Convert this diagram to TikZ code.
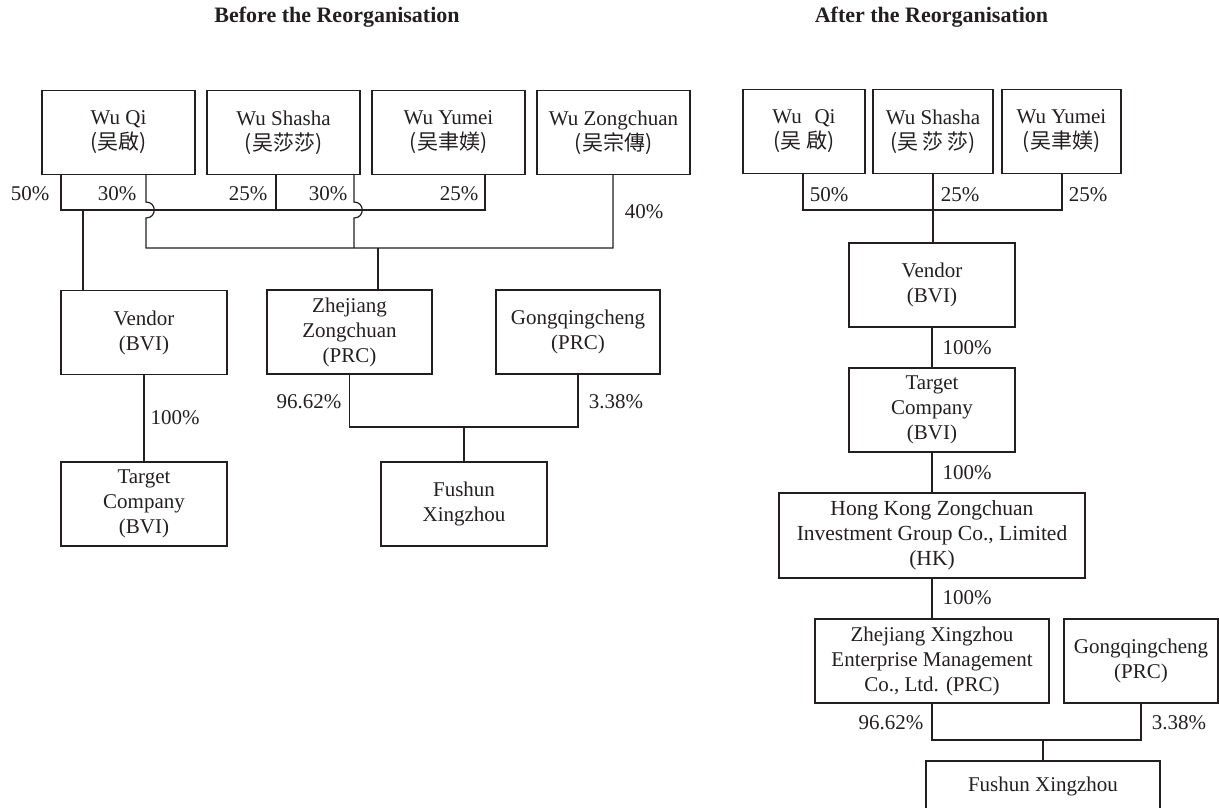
\documentclass[tikz,border=0pt]{standalone}
\usepackage{fontspec}
\setmainfont{Liberation Serif}
\newfontfamily\cjk{Noto Sans CJK TC}
\definecolor{ink}{HTML}{231F20}
\begin{document}
\begin{tikzpicture}[x=1pt,y=-1pt,line width=1.2pt,
  every node/.style={text=ink,font=\fontsize{21}{25}\selectfont},
  box/.style={draw=ink,align=center,inner sep=0pt,minimum height=84pt,minimum width=#1},
  pct/.style={inner sep=0pt},
  ttl/.style={font=\fontsize{22}{26}\selectfont\bfseries,inner sep=0pt},
  conn/.style={draw=ink}]
\useasboundingbox (0,0) rectangle (1219,807);
\clip (0,0) rectangle (1219,807);
% titles
\node[ttl] (tb) at (337,17) {Before the Reorganisation};
\node[ttl] (ta) at (931.5,17) {After the Reorganisation};
% ---------- before ----------
\node[box=153pt] (wuqi) at (118.5,132.5) {Wu Qi\\{\cjk(吴啟)}};
\node[box=153pt] (wushasha) at (283.5,132.5) {Wu Shasha\\{\cjk(吴莎莎)}};
\node[box=153pt] (wuyumei) at (448.5,132.5) {Wu Yumei\\{\cjk(吴聿媄)}};
\node[box=153pt] (wuzong) at (613.5,132.5) {Wu Zongchuan\\{\cjk(吴宗傳)}};
\node[box=166pt] (vendorL) at (144,332.5) {Vendor\\(BVI)};
\node[box=165pt] (zhejiangL) at (349.5,332) {Zhejiang\\Zongchuan\\(PRC)};
\node[box=164pt] (gongL) at (578,332) {Gongqingcheng\\(PRC)};
\node[box=166pt] (targetL) at (144,504) {Target\\Company\\(BVI)};
\node[box=166pt] (fushunL) at (464,504) {Fushun\\Xingzhou};
% connectors before
\coordinate (a1) at (61,210);
\coordinate (a2) at (485,210);
\coordinate (a3) at (276,210);
\coordinate (a4) at (83,210);
\draw[conn] (a1 |- wuqi.south) -- (a1) -- (a2) -- (a2 |- wuyumei.south);
\draw[conn] (a3) -- (a3 |- wushasha.south);
\draw[conn] (a4) -- (a4 |- vendorL.north);
\coordinate (b1) at (146,248);
\coordinate (b2) at (613,248);
\coordinate (b3) at (354,248);
\coordinate (b4) at (378,248);
\draw[conn] (b1 |- wuqi.south) -- (146,202) .. controls (157,202) and (157,218) .. (146,218) -- (b1) -- (b2) -- (b2 |- wuzong.south);
\draw[conn] (b3 |- wushasha.south) -- (354,202) .. controls (365,202) and (365,218) .. (354,218) -- (b3);
\draw[conn] (b4) -- (b4 |- zhejiangL.north);
\draw[conn] (vendorL.south) -- (targetL.north);
\coordinate (c1) at (464,427);
\draw[conn] (zhejiangL.south) |- (c1) -| (gongL.south);
\draw[conn] (c1) -- (fushunL.north);
% labels before
\node[pct] (p1) at (30,194) {50\%};
\node[pct] (p2) at (117,194) {30\%};
\node[pct] (p3) at (248,194) {25\%};
\node[pct] (p4) at (328,194) {30\%};
\node[pct] (p5) at (459,194) {25\%};
\node[pct] (p6) at (644,212) {40\%};
\node[pct] (p7) at (175,418) {100\%};
\node[pct] (p8) at (309,402) {96.62\%};
\node[pct] (p9) at (616,402) {3.38\%};
% ---------- after ----------
\node[box=122pt] (wuqiR) at (804,131.5) {Wu\hspace{0.6em}Qi\\{\cjk(吴\hspace{0.25em}啟)}};
\node[box=120pt] (wushashaR) at (933,131.5) {Wu Shasha\\{\cjk(吴\hspace{0.2em}莎\hspace{0.2em}莎)}};
\node[box=119pt] (wuyumeiR) at (1061.5,131.5) {Wu Yumei\\{\cjk(吴聿媄)}};
\node[box=166pt] (vendorR) at (932,285) {Vendor\\(BVI)};
\node[box=166pt] (targetR) at (932,410) {Target\\Company\\(BVI)};
\node[box=306pt,minimum height=85pt,font=\fontsize{21.5}{25}\selectfont] (hkR) at (932,535.5) {Hong Kong Zongchuan\\Investment Group Co., Limited\\(HK)};
\node[box=234pt] (zxR) at (932,661) {Zhejiang Xingzhou\\Enterprise Management\\Co., Ltd. (PRC)};
\node[box=154pt] (gongR) at (1141,661) {Gongqingcheng\\(PRC)};
\node[box=234pt,minimum height=50pt] (fushunR) at (1043,786) {Fushun Xingzhou};
% connectors after
\coordinate (d1) at (803,210);
\coordinate (d2) at (1062,210);
\coordinate (d3) at (933,210);
\draw[conn] (d1 |- wuqiR.south) -- (d1) -- (d2) -- (d2 |- wuyumeiR.south);
\draw[conn] (d3 |- wushashaR.south) -- (d3) -- (d3 |- vendorR.north);
\draw[conn] (vendorR.south) -- (targetR.north);
\draw[conn] (targetR.south) -- (hkR.north);
\draw[conn] (hkR.south) -- (zxR.north);
\coordinate (e1) at (1043,740);
\draw[conn] (zxR.south) |- (e1) -| (gongR.south);
\draw[conn] (e1) -- (fushunR.north);
% labels after
\node[pct] (q1) at (829,195) {50\%};
\node[pct] (q2) at (960,195) {25\%};
\node[pct] (q3) at (1088,195) {25\%};
\node[pct] (q4) at (967,348) {100\%};
\node[pct] (q5) at (967,473) {100\%};
\node[pct] (q6) at (967,598) {100\%};
\node[pct] (q7) at (891,723) {96.62\%};
\node[pct] (q8) at (1179,723) {3.38\%};
\end{tikzpicture}
\end{document}
